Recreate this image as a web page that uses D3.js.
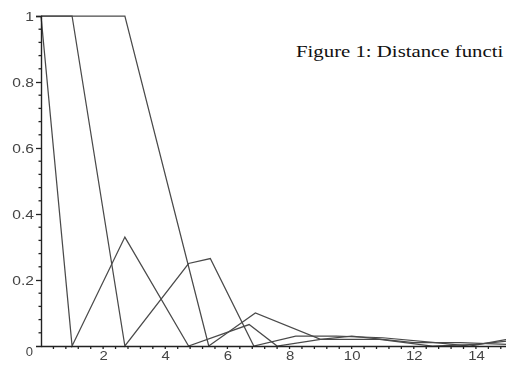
<!DOCTYPE html>
<html>
<head>
<meta charset="utf-8">
<script src="https://cdn.jsdelivr.net/npm/d3@7"></script>
<style>
  html, body { margin: 0; padding: 0; background: #fff; overflow: hidden; }
  svg { display: block; }
</style>
</head>
<body>
<svg id="chart" width="506" height="365"></svg>
<script>
// Distance function curves (piecewise linear)
const lineA_x = [0, 1, 2.7, 4.75, 6.7, 7.6, 9.0, 10.9, 12.6, 14.0, 15];
const lineA_y = [1, 0, 0.33, 0, 0.065, 0, 0.02, 0.02, 0, 0.005, 0.015];
const lineB_x = [0, 1, 2.7, 4.75, 5.45, 6.85, 8.2, 9.5, 11.0, 12.7, 13.8, 15];
const lineB_y = [1, 1, 0, 0.25, 0.265, 0, 0.03, 0.03, 0.025, 0.01, 0, 0.02];
const lineC_x = [0, 2.7, 5.4, 6.9, 9.0, 10.0, 12.0, 13.5, 15];
const lineC_y = [1, 1, 0, 0.1, 0.02, 0.03, 0.01, 0.01, 0.005];

const xTicks = [2, 4, 6, 8, 10, 12, 14];
const yTicks = [0.2, 0.4, 0.6, 0.8, 1];
const yTickLabels = ["0.2", "0.4", "0.6", "0.8", "1"];
const caption = "Figure 1: Distance functi";

const svg = d3.select("#chart");
const x = d3.scaleLinear().domain([0, 15]).range([41, 507]);
const y = d3.scaleLinear().domain([0, 1]).range([346, 16]);

const defs = svg.append("defs");
defs.append("filter").attr("id", "soft")
  .append("feGaussianBlur").attr("stdDeviation", 0.5);

const g = svg.append("g").attr("filter", "url(#soft)");
const labelFont = "Liberation Sans, Arial, sans-serif";

// curves
const line = d3.line().x(d => x(d[0])).y(d => y(d[1]));
const series = [
  d3.zip(lineA_x, lineA_y),
  d3.zip(lineB_x, lineB_y),
  d3.zip(lineC_x, lineC_y)
];
g.selectAll("path.curve").data(series).join("path")
  .attr("class", "curve")
  .attr("d", line)
  .attr("fill", "none")
  .attr("stroke", "#4a4a4a")
  .attr("stroke-width", 1.25)
  .attr("stroke-linejoin", "miter");

// y axis with minor ticks
const yAxis = d3.axisLeft(y).tickValues(yTicks)
  .tickFormat((d, i) => yTickLabels[i]).tickSize(5).tickPadding(2);
const ya = g.append("g").attr("transform", `translate(${x(0)},0)`).call(yAxis);
ya.select(".domain").attr("stroke", "#222").attr("stroke-width", 1.4);
ya.selectAll(".tick line").attr("stroke", "#222").attr("stroke-width", 1.3);
ya.selectAll(".tick text").attr("font-family", labelFont)
  .attr("font-size", 13).attr("fill", "#444")
  .attr("transform", function () {
    const tx = +d3.select(this).attr("x");
    return `translate(${tx},0) scale(1.2,1) translate(${-tx},0)`;
  });
const yMinor = d3.range(0, 1.0001, 0.04).filter(v => Math.abs(v * 5 - Math.round(v * 5)) > 1e-6);
g.selectAll("line.ymin").data(yMinor).join("line")
  .attr("x1", x(0) - 2.5).attr("x2", x(0))
  .attr("y1", d => y(d)).attr("y2", d => y(d))
  .attr("stroke", "#222").attr("stroke-width", 1.3);

// x axis with minor ticks
const xAxis = d3.axisBottom(x).tickValues(xTicks).tickSize(0).tickPadding(5);
const xa = g.append("g").attr("transform", `translate(0,${y(0)})`).call(xAxis);
xa.select(".domain").attr("stroke", "#222").attr("stroke-width", 1.4);
xa.selectAll(".tick text").attr("font-family", labelFont)
  .attr("font-size", 13).attr("fill", "#444")
  .attr("transform", "scale(1.15,1)");
const xMinor = d3.range(0.4, 15, 0.4);
g.selectAll("line.xmin").data(xMinor).join("line")
  .attr("x1", d => x(d)).attr("x2", d => x(d))
  .attr("y1", y(0)).attr("y2", y(0) + 3)
  .attr("stroke", "#222").attr("stroke-width", 1.3);

// origin label
g.append("text").attr("x", x(0) - 8).attr("y", y(0) + 10)
  .attr("text-anchor", "end")
  .attr("font-family", labelFont)
  .attr("font-size", 13).attr("fill", "#444").text("0");

// caption
svg.append("text").attr("x", 296).attr("y", 57)
  .attr("font-family", "Liberation Serif, Times New Roman, serif")
  .attr("font-size", 16).attr("fill", "#111")
  .attr("transform", "translate(296,0) scale(1.3,1) translate(-296,0)")
  .text(caption);
</script>
</body>
</html>
